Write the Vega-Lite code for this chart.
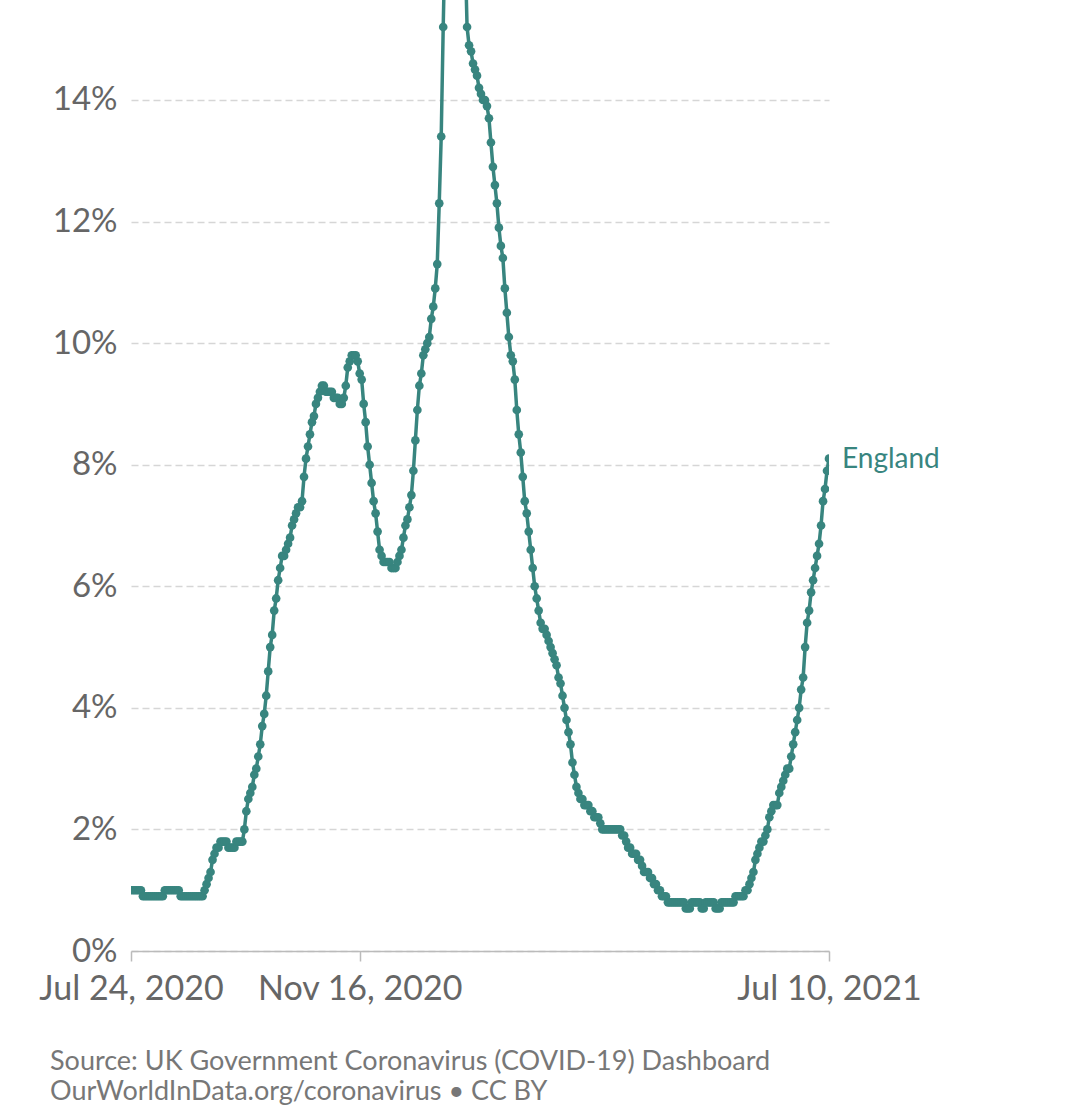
{
  "$schema": "https://vega.github.io/schema/vega-lite/v6.json",
  "width": 698,
  "height": 951,
  "autosize": {"type": "none"},
  "padding": {"left": 131, "top": 0, "right": 251, "bottom": 166},
  "background": "white",
  "config": {"view": {"stroke": null}, "font": "Lato"},
  "title": {
    "text": ["Source: UK Government Coronavirus (COVID-19) Dashboard", "OurWorldInData.org/coronavirus • CC BY"],
    "orient": "bottom", "anchor": "start", "frame": "group", "dx": -81, "offset": 43,
    "fontSize": 27, "font": "Lato", "fontWeight": "normal", "color": "#777777", "lineHeight": 30, "baseline": "top"
  },
  "data": {
    "format": {"parse": {"d": "utc:'%Y-%m-%d'"}},
    "values": [
{"d":"2020-07-24","v":1.0},{"d":"2020-07-25","v":1.0},{"d":"2020-07-26","v":1.0},{"d":"2020-07-27","v":1.0},{"d":"2020-07-28","v":1.0},{"d":"2020-07-29","v":1.0},{"d":"2020-07-30","v":0.9},{"d":"2020-07-31","v":0.9},
{"d":"2020-08-01","v":0.9},{"d":"2020-08-02","v":0.9},{"d":"2020-08-03","v":0.9},{"d":"2020-08-04","v":0.9},{"d":"2020-08-05","v":0.9},{"d":"2020-08-06","v":0.9},{"d":"2020-08-07","v":0.9},{"d":"2020-08-08","v":0.9},{"d":"2020-08-09","v":0.9},{"d":"2020-08-10","v":1.0},{"d":"2020-08-11","v":1.0},{"d":"2020-08-12","v":1.0},{"d":"2020-08-13","v":1.0},{"d":"2020-08-14","v":1.0},{"d":"2020-08-15","v":1.0},{"d":"2020-08-16","v":1.0},{"d":"2020-08-17","v":1.0},{"d":"2020-08-18","v":0.9},{"d":"2020-08-19","v":0.9},{"d":"2020-08-20","v":0.9},{"d":"2020-08-21","v":0.9},{"d":"2020-08-22","v":0.9},{"d":"2020-08-23","v":0.9},{"d":"2020-08-24","v":0.9},{"d":"2020-08-25","v":0.9},{"d":"2020-08-26","v":0.9},{"d":"2020-08-27","v":0.9},{"d":"2020-08-28","v":0.9},{"d":"2020-08-29","v":0.9},{"d":"2020-08-30","v":1.0},{"d":"2020-08-31","v":1.1},
{"d":"2020-09-01","v":1.2},{"d":"2020-09-02","v":1.3},{"d":"2020-09-03","v":1.5},{"d":"2020-09-04","v":1.6},{"d":"2020-09-05","v":1.7},{"d":"2020-09-06","v":1.7},{"d":"2020-09-07","v":1.8},{"d":"2020-09-08","v":1.8},{"d":"2020-09-09","v":1.8},{"d":"2020-09-10","v":1.8},{"d":"2020-09-11","v":1.7},{"d":"2020-09-12","v":1.7},{"d":"2020-09-13","v":1.7},{"d":"2020-09-14","v":1.7},{"d":"2020-09-15","v":1.8},{"d":"2020-09-16","v":1.8},{"d":"2020-09-17","v":1.8},{"d":"2020-09-18","v":1.8},{"d":"2020-09-19","v":2.0},{"d":"2020-09-20","v":2.3},{"d":"2020-09-21","v":2.5},{"d":"2020-09-22","v":2.6},{"d":"2020-09-23","v":2.7},{"d":"2020-09-24","v":2.9},{"d":"2020-09-25","v":3.0},{"d":"2020-09-26","v":3.2},{"d":"2020-09-27","v":3.4},{"d":"2020-09-28","v":3.7},{"d":"2020-09-29","v":3.9},{"d":"2020-09-30","v":4.2},
{"d":"2020-10-01","v":4.6},{"d":"2020-10-02","v":5.0},{"d":"2020-10-03","v":5.2},{"d":"2020-10-04","v":5.6},{"d":"2020-10-05","v":5.8},{"d":"2020-10-06","v":6.1},{"d":"2020-10-07","v":6.3},{"d":"2020-10-08","v":6.5},{"d":"2020-10-09","v":6.5},{"d":"2020-10-10","v":6.6},{"d":"2020-10-11","v":6.7},{"d":"2020-10-12","v":6.8},{"d":"2020-10-13","v":7.0},{"d":"2020-10-14","v":7.1},{"d":"2020-10-15","v":7.2},{"d":"2020-10-16","v":7.3},{"d":"2020-10-17","v":7.3},{"d":"2020-10-18","v":7.4},{"d":"2020-10-19","v":7.8},{"d":"2020-10-20","v":8.1},{"d":"2020-10-21","v":8.3},{"d":"2020-10-22","v":8.5},{"d":"2020-10-23","v":8.7},{"d":"2020-10-24","v":8.8},{"d":"2020-10-25","v":9.0},{"d":"2020-10-26","v":9.1},{"d":"2020-10-27","v":9.2},{"d":"2020-10-28","v":9.3},{"d":"2020-10-29","v":9.3},{"d":"2020-10-30","v":9.2},{"d":"2020-10-31","v":9.2},
{"d":"2020-11-01","v":9.2},{"d":"2020-11-02","v":9.2},{"d":"2020-11-03","v":9.1},{"d":"2020-11-04","v":9.1},{"d":"2020-11-05","v":9.1},{"d":"2020-11-06","v":9.0},{"d":"2020-11-07","v":9.0},{"d":"2020-11-08","v":9.1},{"d":"2020-11-09","v":9.3},{"d":"2020-11-10","v":9.6},{"d":"2020-11-11","v":9.7},{"d":"2020-11-12","v":9.8},{"d":"2020-11-13","v":9.8},{"d":"2020-11-14","v":9.8},{"d":"2020-11-15","v":9.7},{"d":"2020-11-16","v":9.5},{"d":"2020-11-17","v":9.4},{"d":"2020-11-18","v":9.0},{"d":"2020-11-19","v":8.7},{"d":"2020-11-20","v":8.3},{"d":"2020-11-21","v":8.0},{"d":"2020-11-22","v":7.7},{"d":"2020-11-23","v":7.4},{"d":"2020-11-24","v":7.2},{"d":"2020-11-25","v":6.9},{"d":"2020-11-26","v":6.6},{"d":"2020-11-27","v":6.5},{"d":"2020-11-28","v":6.4},{"d":"2020-11-29","v":6.4},{"d":"2020-11-30","v":6.4},
{"d":"2020-12-01","v":6.4},{"d":"2020-12-02","v":6.3},{"d":"2020-12-03","v":6.3},{"d":"2020-12-04","v":6.3},{"d":"2020-12-05","v":6.4},{"d":"2020-12-06","v":6.5},{"d":"2020-12-07","v":6.6},{"d":"2020-12-08","v":6.8},{"d":"2020-12-09","v":7.0},{"d":"2020-12-10","v":7.1},{"d":"2020-12-11","v":7.3},{"d":"2020-12-12","v":7.5},{"d":"2020-12-13","v":7.9},{"d":"2020-12-14","v":8.4},{"d":"2020-12-15","v":8.9},{"d":"2020-12-16","v":9.3},{"d":"2020-12-17","v":9.5},{"d":"2020-12-18","v":9.8},{"d":"2020-12-19","v":9.9},{"d":"2020-12-20","v":10.0},{"d":"2020-12-21","v":10.1},{"d":"2020-12-22","v":10.4},{"d":"2020-12-23","v":10.6},{"d":"2020-12-24","v":10.9},{"d":"2020-12-25","v":11.3},{"d":"2020-12-26","v":12.3},{"d":"2020-12-27","v":13.4},{"d":"2020-12-28","v":15.2},{"d":"2020-12-29","v":16.8},{"d":"2020-12-30","v":17.5},{"d":"2020-12-31","v":17.9},
{"d":"2021-01-01","v":18.0},{"d":"2021-01-02","v":18.1},{"d":"2021-01-03","v":18.0},{"d":"2021-01-04","v":17.7},{"d":"2021-01-05","v":17.4},{"d":"2021-01-06","v":17.2},{"d":"2021-01-07","v":16.9},{"d":"2021-01-08","v":16.5},{"d":"2021-01-09","v":15.2},{"d":"2021-01-10","v":14.9},{"d":"2021-01-11","v":14.8},{"d":"2021-01-12","v":14.6},{"d":"2021-01-13","v":14.5},{"d":"2021-01-14","v":14.4},{"d":"2021-01-15","v":14.2},{"d":"2021-01-16","v":14.1},{"d":"2021-01-17","v":14.0},{"d":"2021-01-18","v":14.0},{"d":"2021-01-19","v":13.9},{"d":"2021-01-20","v":13.7},{"d":"2021-01-21","v":13.3},{"d":"2021-01-22","v":12.9},{"d":"2021-01-23","v":12.6},{"d":"2021-01-24","v":12.3},{"d":"2021-01-25","v":11.9},{"d":"2021-01-26","v":11.6},{"d":"2021-01-27","v":11.4},{"d":"2021-01-28","v":10.9},{"d":"2021-01-29","v":10.5},{"d":"2021-01-30","v":10.1},{"d":"2021-01-31","v":9.8},
{"d":"2021-02-01","v":9.7},{"d":"2021-02-02","v":9.4},{"d":"2021-02-03","v":8.9},{"d":"2021-02-04","v":8.5},{"d":"2021-02-05","v":8.2},{"d":"2021-02-06","v":7.8},{"d":"2021-02-07","v":7.4},{"d":"2021-02-08","v":7.2},{"d":"2021-02-09","v":6.9},{"d":"2021-02-10","v":6.6},{"d":"2021-02-11","v":6.3},{"d":"2021-02-12","v":6.0},{"d":"2021-02-13","v":5.8},{"d":"2021-02-14","v":5.6},{"d":"2021-02-15","v":5.4},{"d":"2021-02-16","v":5.3},{"d":"2021-02-17","v":5.3},{"d":"2021-02-18","v":5.2},{"d":"2021-02-19","v":5.1},{"d":"2021-02-20","v":5.0},{"d":"2021-02-21","v":4.9},{"d":"2021-02-22","v":4.8},{"d":"2021-02-23","v":4.7},{"d":"2021-02-24","v":4.5},{"d":"2021-02-25","v":4.4},{"d":"2021-02-26","v":4.2},{"d":"2021-02-27","v":4.0},{"d":"2021-02-28","v":3.8},
{"d":"2021-03-01","v":3.6},{"d":"2021-03-02","v":3.4},{"d":"2021-03-03","v":3.1},{"d":"2021-03-04","v":2.9},{"d":"2021-03-05","v":2.7},{"d":"2021-03-06","v":2.6},{"d":"2021-03-07","v":2.5},{"d":"2021-03-08","v":2.5},{"d":"2021-03-09","v":2.4},{"d":"2021-03-10","v":2.4},{"d":"2021-03-11","v":2.4},{"d":"2021-03-12","v":2.3},{"d":"2021-03-13","v":2.3},{"d":"2021-03-14","v":2.2},{"d":"2021-03-15","v":2.2},{"d":"2021-03-16","v":2.2},{"d":"2021-03-17","v":2.1},{"d":"2021-03-18","v":2.0},{"d":"2021-03-19","v":2.0},{"d":"2021-03-20","v":2.0},{"d":"2021-03-21","v":2.0},{"d":"2021-03-22","v":2.0},{"d":"2021-03-23","v":2.0},{"d":"2021-03-24","v":2.0},{"d":"2021-03-25","v":2.0},{"d":"2021-03-26","v":2.0},{"d":"2021-03-27","v":2.0},{"d":"2021-03-28","v":1.9},{"d":"2021-03-29","v":1.9},{"d":"2021-03-30","v":1.8},{"d":"2021-03-31","v":1.7},
{"d":"2021-04-01","v":1.7},{"d":"2021-04-02","v":1.6},{"d":"2021-04-03","v":1.6},{"d":"2021-04-04","v":1.6},{"d":"2021-04-05","v":1.5},{"d":"2021-04-06","v":1.5},{"d":"2021-04-07","v":1.4},{"d":"2021-04-08","v":1.3},{"d":"2021-04-09","v":1.3},{"d":"2021-04-10","v":1.3},{"d":"2021-04-11","v":1.2},{"d":"2021-04-12","v":1.2},{"d":"2021-04-13","v":1.1},{"d":"2021-04-14","v":1.1},{"d":"2021-04-15","v":1.0},{"d":"2021-04-16","v":1.0},{"d":"2021-04-17","v":0.9},{"d":"2021-04-18","v":0.9},{"d":"2021-04-19","v":0.9},{"d":"2021-04-20","v":0.8},{"d":"2021-04-21","v":0.8},{"d":"2021-04-22","v":0.8},{"d":"2021-04-23","v":0.8},{"d":"2021-04-24","v":0.8},{"d":"2021-04-25","v":0.8},{"d":"2021-04-26","v":0.8},{"d":"2021-04-27","v":0.8},{"d":"2021-04-28","v":0.8},{"d":"2021-04-29","v":0.7},{"d":"2021-04-30","v":0.7},
{"d":"2021-05-01","v":0.7},{"d":"2021-05-02","v":0.8},{"d":"2021-05-03","v":0.8},{"d":"2021-05-04","v":0.8},{"d":"2021-05-05","v":0.8},{"d":"2021-05-06","v":0.8},{"d":"2021-05-07","v":0.7},{"d":"2021-05-08","v":0.7},{"d":"2021-05-09","v":0.8},{"d":"2021-05-10","v":0.8},{"d":"2021-05-11","v":0.8},{"d":"2021-05-12","v":0.8},{"d":"2021-05-13","v":0.8},{"d":"2021-05-14","v":0.7},{"d":"2021-05-15","v":0.7},{"d":"2021-05-16","v":0.7},{"d":"2021-05-17","v":0.8},{"d":"2021-05-18","v":0.8},{"d":"2021-05-19","v":0.8},{"d":"2021-05-20","v":0.8},{"d":"2021-05-21","v":0.8},{"d":"2021-05-22","v":0.8},{"d":"2021-05-23","v":0.8},{"d":"2021-05-24","v":0.9},{"d":"2021-05-25","v":0.9},{"d":"2021-05-26","v":0.9},{"d":"2021-05-27","v":0.9},{"d":"2021-05-28","v":0.9},{"d":"2021-05-29","v":1.0},{"d":"2021-05-30","v":1.0},{"d":"2021-05-31","v":1.1},
{"d":"2021-06-01","v":1.2},{"d":"2021-06-02","v":1.3},{"d":"2021-06-03","v":1.5},{"d":"2021-06-04","v":1.6},{"d":"2021-06-05","v":1.7},{"d":"2021-06-06","v":1.8},{"d":"2021-06-07","v":1.8},{"d":"2021-06-08","v":1.9},{"d":"2021-06-09","v":2.0},{"d":"2021-06-10","v":2.2},{"d":"2021-06-11","v":2.3},{"d":"2021-06-12","v":2.4},{"d":"2021-06-13","v":2.4},{"d":"2021-06-14","v":2.4},{"d":"2021-06-15","v":2.6},{"d":"2021-06-16","v":2.7},{"d":"2021-06-17","v":2.8},{"d":"2021-06-18","v":2.9},{"d":"2021-06-19","v":3.0},{"d":"2021-06-20","v":3.0},{"d":"2021-06-21","v":3.2},{"d":"2021-06-22","v":3.4},{"d":"2021-06-23","v":3.6},{"d":"2021-06-24","v":3.8},{"d":"2021-06-25","v":4.0},{"d":"2021-06-26","v":4.3},{"d":"2021-06-27","v":4.5},{"d":"2021-06-28","v":5.0},{"d":"2021-06-29","v":5.4},{"d":"2021-06-30","v":5.6},
{"d":"2021-07-01","v":5.9},{"d":"2021-07-02","v":6.1},{"d":"2021-07-03","v":6.3},{"d":"2021-07-04","v":6.5},{"d":"2021-07-05","v":6.7},{"d":"2021-07-06","v":7.0},{"d":"2021-07-07","v":7.4},{"d":"2021-07-08","v":7.6},{"d":"2021-07-09","v":7.9},{"d":"2021-07-10","v":8.1}
    ]
  },
  "encoding": {
    "x": {
      "field": "d", "type": "temporal",
      "scale": {"type": "utc", "domain": [{"year": 2020, "month": 7, "date": 24, "utc": true}, {"year": 2021, "month": 7, "date": 10, "utc": true}], "nice": false},
      "axis": {
        "title": null, "labelExpr": "utcFormat(datum.value, '%b %-d, %Y')",
        "values": [{"year": 2020, "month": 7, "date": 24, "utc": true}, {"year": 2020, "month": 11, "date": 16, "utc": true}, {"year": 2021, "month": 7, "date": 10, "utc": true}],
        "grid": false, "domainColor": "#bbbbbb", "domainWidth": 1.5, "tickColor": "#bbbbbb", "tickWidth": 1.5, "tickSize": 10,
        "labelFont": "Lato", "labelFontSize": 34, "labelColor": "#666666", "labelPadding": 11, "labelLimit": 0,
        "labelFlush": false, "labelOverlap": false, "labelBound": false, "zindex": 1
      }
    },
    "y": {
      "field": "v", "type": "quantitative",
      "scale": {"domain": [0, 15.645], "nice": false, "zero": true},
      "axis": {
        "title": null, "values": [0, 2, 4, 6, 8, 10, 12, 14], "labelExpr": "datum.value + '%'",
        "grid": true, "gridDash": [7, 4], "gridColor": "#d6d6d6", "gridWidth": 1.5,
        "domain": false, "ticks": false,
        "labelFont": "Lato", "labelFontSize": 33, "labelColor": "#666666", "labelPadding": 14
      }
    }
  },
  "layer": [
    {"mark": {"type": "line", "color": "#38857f", "strokeWidth": 3.5, "clip": true}},
    {"mark": {"type": "point", "filled": true, "color": "#38857f", "size": 75, "opacity": 1, "clip": true}},
    {
      "transform": [
        {"joinaggregate": [{"op": "max", "field": "d", "as": "maxd"}]},
        {"filter": "time(datum.d) === time(datum.maxd)"}
      ],
      "mark": {"type": "text", "align": "left", "baseline": "middle", "dx": 13, "dy": 1, "font": "Lato", "fontSize": 28, "color": "#38857f"},
      "encoding": {"text": {"value": "England"}}
    }
  ]
}
